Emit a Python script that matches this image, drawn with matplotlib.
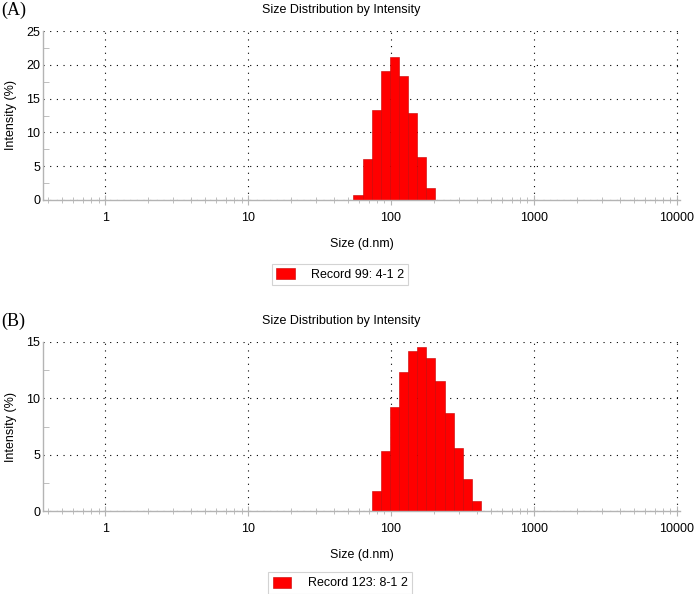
import matplotlib
matplotlib.use('Agg')
import matplotlib.pyplot as plt
import numpy as np
from matplotlib.ticker import FixedLocator, LogLocator, NullFormatter, MultipleLocator

plt.rcParams['font.family'] = ['Liberation Sans', 'DejaVu Sans']

# Zetasizer size bins (d.nm) and intensities (%)
size_a = [58.77, 68.06, 78.82, 91.28, 105.7, 122.4, 141.8, 164.2, 190.1]
int_a = [0.7, 6.1, 13.3, 19.1, 21.1, 18.3, 12.8, 6.4, 1.8]

size_b = [78.82, 91.28, 105.7, 122.4, 141.8, 164.2, 190.1, 220.2, 255.0, 295.3, 342.0, 396.1]
int_b = [1.8, 5.3, 9.2, 12.3, 14.2, 14.6, 13.6, 11.5, 8.7, 5.6, 2.8, 0.9]

legend_a = 'Record 99: 4-1 2'
legend_b = 'Record 123: 8-1 2'
xticks = [1, 10, 100, 1000, 10000]
xtick_labels = ['1', '10', '100', '1000', '10000']
bin_ratio = 1.158  # step between neighbouring size classes

W, H = 694, 594
fig = plt.figure(figsize=(W / 100, H / 100), dpi=100)

grey = '#b4b4b4'
fs = 9


def panel(top_px, sizes, vals, ymax, label, leg_text, leg_y):
    ax = fig.add_axes([43 / W, 1 - (top_px + 169) / H, 637 / W, 169 / H])
    sizes = np.array(sizes)
    left = sizes / np.sqrt(bin_ratio)
    right = sizes * np.sqrt(bin_ratio)
    bars = ax.bar(left, vals, width=right - left, align='edge',
                  color='#ff0000', edgecolor='#c80000', linewidth=0.4,
                  label=leg_text, zorder=2)
    ax.set_xscale('log')
    ax.set_xlim(0.368, 10500)
    ax.set_ylim(0, ymax)
    ax.xaxis.set_major_locator(FixedLocator(xticks))
    ax.set_xticklabels(xtick_labels)
    ax.xaxis.set_minor_locator(LogLocator(base=10, subs=np.arange(2, 10)))
    ax.xaxis.set_minor_formatter(NullFormatter())
    ax.yaxis.set_major_locator(MultipleLocator(5))
    ax.yaxis.set_minor_locator(MultipleLocator(2.5))
    ax.grid(True, which='major', color='black', linestyle=(0, (1, 5)), linewidth=0.8, zorder=0)
    ax.set_axisbelow(True)
    for s in ['top', 'right']:
        ax.spines[s].set_visible(False)
    for s in ['left', 'bottom']:
        ax.spines[s].set_color(grey)
        ax.spines[s].set_linewidth(1.0)
    ax.tick_params(axis='x', which='both', direction='inout', color=grey, labelsize=fs, pad=5)
    ax.tick_params(axis='x', which='major', length=7)
    ax.tick_params(axis='x', which='minor', length=5)
    ax.tick_params(axis='y', which='both', direction='in', color=grey, labelsize=fs, pad=2)
    ax.tick_params(axis='y', which='major', length=0)
    ax.tick_params(axis='y', which='minor', length=4)
    ax.set_xlabel('Size (d.nm)', fontsize=fs, labelpad=10)
    ax.set_ylabel('Intensity (%)', fontsize=fs)
    ax.yaxis.set_label_coords(-26 / 637, 0.5)
    ax.set_title('Size Distribution by Intensity', fontsize=fs, pad=13, x=0.468)
    fig.text(1 / W, 1 - (top_px - 21) / H, label, fontsize=13,
             family=['Liberation Serif', 'DejaVu Serif'], va='center', ha='left')
    leg = fig.legend(handles=[bars], labels=[leg_text], loc='center',
                     bbox_to_anchor=(340 / W, 1 - leg_y / H), fontsize=fs,
                     frameon=True, fancybox=False, edgecolor='#c8c8c8',
                     handlelength=1.5, handleheight=1.0, handletextpad=1.3,
                     borderpad=0.35)
    leg.get_frame().set_linewidth(0.8)
    return ax


panel(31, size_a, int_a, 25, '(A)', legend_a, 274.5)
panel(342, size_b, int_b, 15, '(B)', legend_b, 583)

fig.savefig('out.png', dpi=100)
